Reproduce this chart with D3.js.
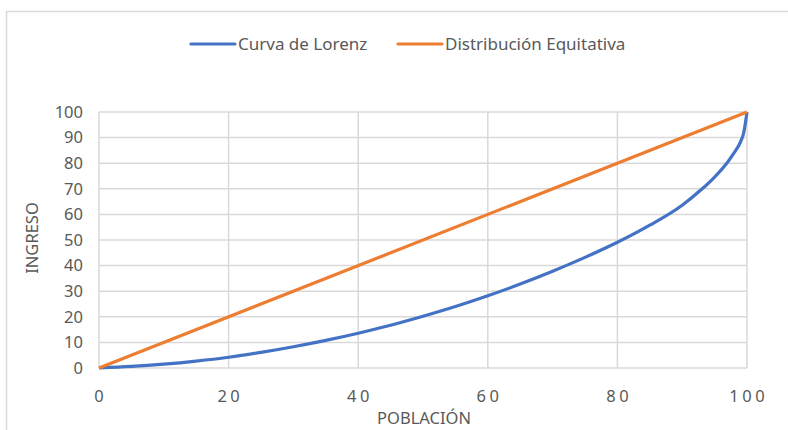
<!DOCTYPE html>
<html><head><meta charset="utf-8">
<script src="https://cdn.jsdelivr.net/npm/d3@7"></script>
<style>body{margin:0;background:#fff;} svg{display:block;}</style>
</head><body>
<svg id="c" width="788" height="430"></svg>
<script>
const poblacion = [0,5,10,15,20,25,30,35,40,45,50,55,60,65,70,75,80,85,90,93,95,97,98,99,99.5,100];
const lorenz    = [0,0.6,1.5,2.7,4.2,6.1,8.3,10.8,13.6,16.7,20.2,24.0,28.2,32.8,37.8,43.2,49.1,55.8,63.6,69.8,74.6,80.4,84.0,88.3,92,100];
const equitativa = [0,100];
const xTicks = [0,20,40,60,80,100];
const yTicks = [0,10,20,30,40,50,60,70,80,90,100];
const seriesNames = ["Curva de Lorenz","Distribución Equitativa"];
const colors = ["#4472C4","#ED7D31"];

const svg = d3.select("#c");
const font = "'Noto Sans', 'Open Sans', sans-serif";
const textCol = "#595959";
const gridCol = "#D9D9D9";
const fs = 16.5;

// outer border
svg.append("path").attr("d","M6.5,430 V11.5 H788").attr("fill","none").attr("stroke",gridCol).attr("stroke-width",1.5);

const x = d3.scaleLinear().domain([0,100]).range([99,747]);
const y = d3.scaleLinear().domain([0,100]).range([368,112]);

// horizontal grid
svg.append("g").selectAll("line").data(yTicks).join("line")
  .attr("x1",x(0)).attr("x2",x(100)).attr("y1",d=>y(d)).attr("y2",d=>y(d))
  .attr("stroke",gridCol).attr("stroke-width",1.5);
// vertical grid
svg.append("g").selectAll("line").data(xTicks).join("line")
  .attr("y1",y(0)).attr("y2",y(100)).attr("x1",d=>x(d)).attr("x2",d=>x(d))
  .attr("stroke",gridCol).attr("stroke-width",1.5);

// y tick labels
svg.append("g").selectAll("text").data(yTicks).join("text")
  .attr("x",83).attr("y",d=>y(d)).attr("dy","0.35em").attr("text-anchor","end")
  .attr("font-family",font).attr("font-size",fs).attr("fill",textCol).text(d=>d);
// x tick labels
const ls = 3.5;
svg.append("g").selectAll("text").data(xTicks).join("text")
  .attr("x",d=>x(d)+ls/2).attr("y",396).attr("dy","0.35em").attr("text-anchor","middle")
  .attr("font-family",font).attr("font-size",fs).attr("letter-spacing",ls+"px").attr("fill",textCol).text(d=>d);

// axis titles
svg.append("text").attr("transform","translate(38,238) rotate(-90)").attr("text-anchor","middle")
  .attr("font-family",font).attr("font-size",fs).attr("fill",textCol).text("INGRESO");
svg.append("text").attr("x",424).attr("y",418).attr("dy","0.35em").attr("text-anchor","middle")
  .attr("font-family",font).attr("font-size",fs).attr("fill",textCol).text("POBLACIÓN");

// lines
const line = d3.line().x(d=>x(d[0])).y(d=>y(d[1])).curve(d3.curveMonotoneX);
svg.append("path").datum(poblacion.map((p,i)=>[p,lorenz[i]])).attr("d",line)
  .attr("fill","none").attr("stroke",colors[0]).attr("stroke-width",3.2).attr("stroke-linejoin","round");
svg.append("path").datum([[0,equitativa[0]],[100,equitativa[1]]]).attr("d",d3.line().x(d=>x(d[0])).y(d=>y(d[1])))
  .attr("fill","none").attr("stroke",colors[1]).attr("stroke-width",3.2);

// legend
const leg = [{name:seriesNames[0],lx:191,tx:238},{name:seriesNames[1],lx:398,tx:445}];
leg.forEach((l,i)=>{
  svg.append("line").attr("x1",l.lx).attr("x2",l.lx+44).attr("y1",44).attr("y2",44)
    .attr("stroke",colors[i]).attr("stroke-width",3.2).attr("stroke-linecap","round");
  svg.append("text").attr("x",l.tx).attr("y",44).attr("dy","0.35em")
    .attr("font-family",font).attr("font-size",17).attr("fill",textCol).text(l.name);
});
</script>
</body></html>
